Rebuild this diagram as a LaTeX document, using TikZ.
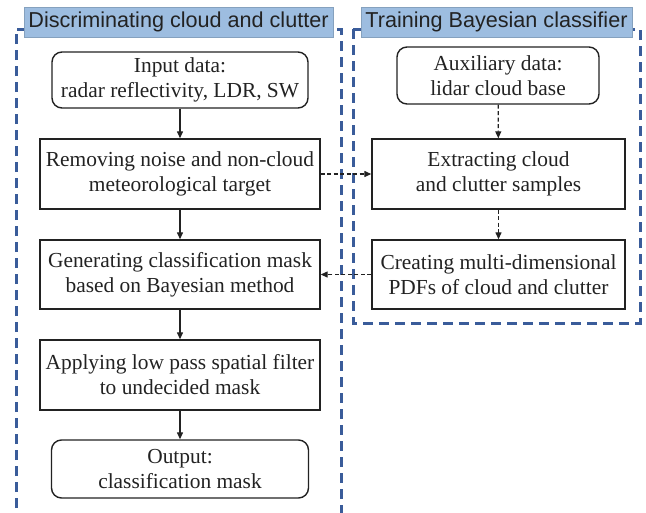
\documentclass[tikz,border=0pt]{standalone}
\usepackage{fontspec}
\setmainfont{Liberation Serif}
\newfontfamily\titlefont{Liberation Sans}
\usetikzlibrary{arrows.meta}
\definecolor{framecol}{HTML}{3A5C9A}
\definecolor{titlecol}{HTML}{9DBDE0}
\definecolor{inkcol}{HTML}{222222}
\tikzset{
  frame/.style={draw=framecol, line width=3pt, dash pattern=on 10pt off 6pt},
  titlebox/.style={fill=titlecol, draw=titlecol!85!black, line width=0.3pt, inner sep=0pt, font=\titlefont\fontsize{21.6}{24}\selectfont, text=inkcol},
  procbox/.style={draw=inkcol, line width=1.4pt, align=center, inner sep=0pt, font=\fontsize{21.4}{25}\selectfont, text=inkcol},
  termbox/.style={procbox, rounded corners=10pt},
  flow/.style={draw=inkcol, line width=1.3pt, -{Triangle[length=7pt,width=6pt]}},
  dflow/.style={flow, dash pattern=on 4pt off 2.5pt},
}
\begin{document}
\begin{tikzpicture}[x=1pt,y=-1pt]
\useasboundingbox (0,0) rectangle (646,512);
% frames
\draw[frame] (16,540) -- (16,29) -- (341,29) -- (341,540);
\draw[frame] (353,29) rectangle (640,323);
% titles
\node[titlebox, minimum width=309pt, minimum height=30pt] (t1) at (178.5,22) {Discriminating cloud and clutter};
\node[titlebox, minimum width=271pt, minimum height=30pt] (t2) at (496.5,22) {Training Bayesian classifier};
% left column
\node[termbox, minimum width=256pt, minimum height=56pt] (in) at (180,80) {Input data:\\radar reflectivity, LDR, SW};
\node[procbox, minimum width=280pt, minimum height=70pt] (rm) at (180,174) {Removing noise and non-cloud\\meteorological target};
\node[procbox, minimum width=280pt, minimum height=69pt] (gen) at (180,274.5) {Generating classification mask\\based on Bayesian method};
\node[procbox, minimum width=280pt, minimum height=70pt] (app) at (180,375) {Applying low pass spatial filter\\to undecided mask};
\node[termbox, minimum width=257pt, minimum height=58pt] (out) at (180,469) {Output:\\classification mask};
% right column
\node[termbox, minimum width=202pt, minimum height=57pt] (aux) at (498,75.5) {Auxiliary data:\\lidar cloud base};
\node[procbox, minimum width=253pt, minimum height=70pt] (ext) at (498.5,174) {Extracting cloud\\and clutter samples};
\node[procbox, minimum width=253pt, minimum height=69pt] (cre) at (498.5,274.5) {Creating multi-dimensional\\PDFs of cloud and clutter};
% connectors
\draw[flow] (in) -- (rm);
\draw[flow] (rm) -- (gen);
\draw[flow] (gen) -- (app);
\draw[flow] (app) -- (out);
\draw[dflow] (aux) -- (ext);
\draw[dflow] (ext) -- (cre);
\draw[dflow] (rm) -- (ext);
\draw[dflow] (cre) -- (gen);
\end{tikzpicture}
\end{document}
